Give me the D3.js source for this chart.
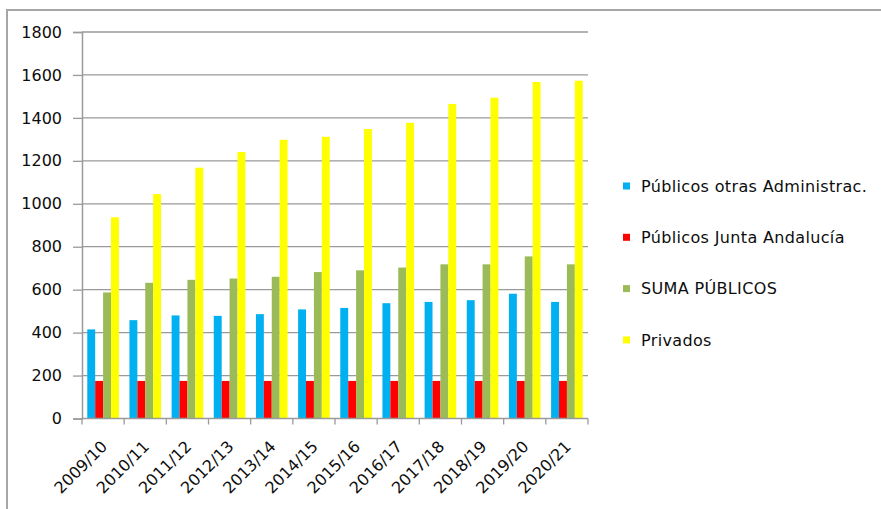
<!DOCTYPE html>
<html>
<head>
<meta charset="utf-8">
<script src="https://cdn.jsdelivr.net/npm/d3@7"></script>
<style>
  html, body { margin: 0; padding: 0; background: #fff; }
  svg { display: block; }
  text { font-family: "DejaVu Sans", sans-serif; fill: #0d0d0d; }
</style>
</head>
<body>
<svg id="chart"></svg>
<script>
const years = ['2009/10', '2010/11', '2011/12', '2012/13', '2013/14', '2014/15',
    '2015/16', '2016/17', '2017/18', '2018/19', '2019/20', '2020/21'];
const seriesNames = ['Públicos otras Administrac.', 'Públicos Junta Andalucía', 'SUMA PÚBLICOS', 'Privados'];
const otrasAdmin = [415, 458, 480, 478, 486, 508, 515, 537, 543, 551, 581, 543];
const juntaAndalucia = [175, 175, 175, 175, 175, 175, 175, 175, 175, 175, 175, 175];
const sumaPublicos = [587, 632, 646, 652, 660, 682, 690, 703, 718, 718, 755, 718];
const privados = [937, 1045, 1168, 1241, 1298, 1312, 1348, 1377, 1465, 1494, 1567, 1573];
const yTicks = [0, 200, 400, 600, 800, 1000, 1200, 1400, 1600, 1800];
const colors = ['#00b0f0', '#ff0000', '#9bbb59', '#ffff00'];

const width = 881;
const height = 509;
const margin = { top: 32, right: 293, bottom: 90.5, left: 82 };

const allSeries = [otrasAdmin, juntaAndalucia, sumaPublicos, privados];
const data = years.map((year, i) => ({
    year,
    values: seriesNames.map((name, j) => ({ name, value: allSeries[j][i] }))
}));

const svg = d3.select('#chart')
    .attr('width', width)
    .attr('height', height);

// outer chart frame (only top and left edges are visible in the crop)
svg.append('path')
    .attr('d', `M7,${height} V10 H${width}`)
    .attr('fill', 'none')
    .attr('stroke', '#a6a6a6')
    .attr('stroke-width', 2);

const x0 = d3.scaleBand()
    .domain(years)
    .range([margin.left, width - margin.right])
    .padding(0);

const x1 = d3.scaleBand()
    .domain(seriesNames)
    .range([x0.bandwidth() * 0.125, x0.bandwidth() * 0.875])
    .padding(0);

const y = d3.scaleLinear()
    .domain([0, 1800])
    .range([height - margin.bottom, margin.top]);

const color = d3.scaleOrdinal().domain(seriesNames).range(colors);

// gridlines
svg.append('g')
    .selectAll('line')
    .data(yTicks.filter(d => d > 0))
    .join('line')
        .attr('x1', margin.left)
        .attr('x2', width - margin.right)
        .attr('y1', d => y(d))
        .attr('y2', d => y(d))
        .attr('stroke', '#9a9a9a')
        .attr('stroke-width', 1.3);

// bars
svg.append('g')
    .selectAll('g')
    .data(data)
    .join('g')
        .attr('transform', d => `translate(${x0(d.year)},0)`)
    .selectAll('rect')
    .data(d => d.values)
    .join('rect')
        .attr('x', d => x1(d.name))
        .attr('y', d => y(d.value))
        .attr('width', x1.bandwidth())
        .attr('height', d => y(0) - y(d.value))
        .attr('fill', d => color(d.name));

// y axis
const yAxis = svg.append('g')
    .attr('transform', `translate(${margin.left},0)`)
    .call(d3.axisLeft(y).tickValues(yTicks).tickSize(9).tickPadding(11).tickFormat(d3.format('d')));
yAxis.select('.domain').attr('stroke', '#9a9a9a').attr('stroke-width', 1.5);
yAxis.selectAll('.tick line').attr('stroke', '#9a9a9a').attr('stroke-width', 1.3);
yAxis.selectAll('.tick text')
    .style('font-size', '16px')
    .attr('fill', '#0d0d0d');

// x axis, ticks between categories
const xAxisG = svg.append('g')
    .attr('transform', `translate(0,${y(0)})`);
xAxisG.append('line')
    .attr('x1', margin.left)
    .attr('x2', width - margin.right)
    .attr('stroke', '#9a9a9a')
    .attr('stroke-width', 1.5);
xAxisG.selectAll('line.tick')
    .data(years.concat(['end']))
    .join('line')
        .attr('class', 'tick')
        .attr('x1', (d, i) => i < years.length ? x0(d) : width - margin.right)
        .attr('x2', (d, i) => i < years.length ? x0(d) : width - margin.right)
        .attr('y1', 0)
        .attr('y2', 6)
        .attr('stroke', '#9a9a9a')
        .attr('stroke-width', 1.3);
xAxisG.selectAll('text')
    .data(years)
    .join('text')
        .attr('transform', d => `translate(${x0(d) + x0.bandwidth() / 2 + 5},29) rotate(-45)`)
        .attr('text-anchor', 'end')
        .style('font-size', '16px')
        .text(d => d);

// legend
const legend = svg.append('g')
    .attr('transform', 'translate(623,186)')
    .selectAll('g')
    .data(seriesNames)
    .join('g')
        .attr('transform', (d, i) => `translate(0,${i * 51.3})`);
legend.append('rect')
    .attr('x', 0)
    .attr('y', -3.5)
    .attr('width', 7)
    .attr('height', 7)
    .attr('fill', d => color(d));
legend.append('text')
    .attr('x', 18)
    .attr('y', 0)
    .attr('dy', '0.35em')
    .style('font-size', '16px')
    .style('letter-spacing', '0.35px')
    .text(d => d);
</script>
</body>
</html>
